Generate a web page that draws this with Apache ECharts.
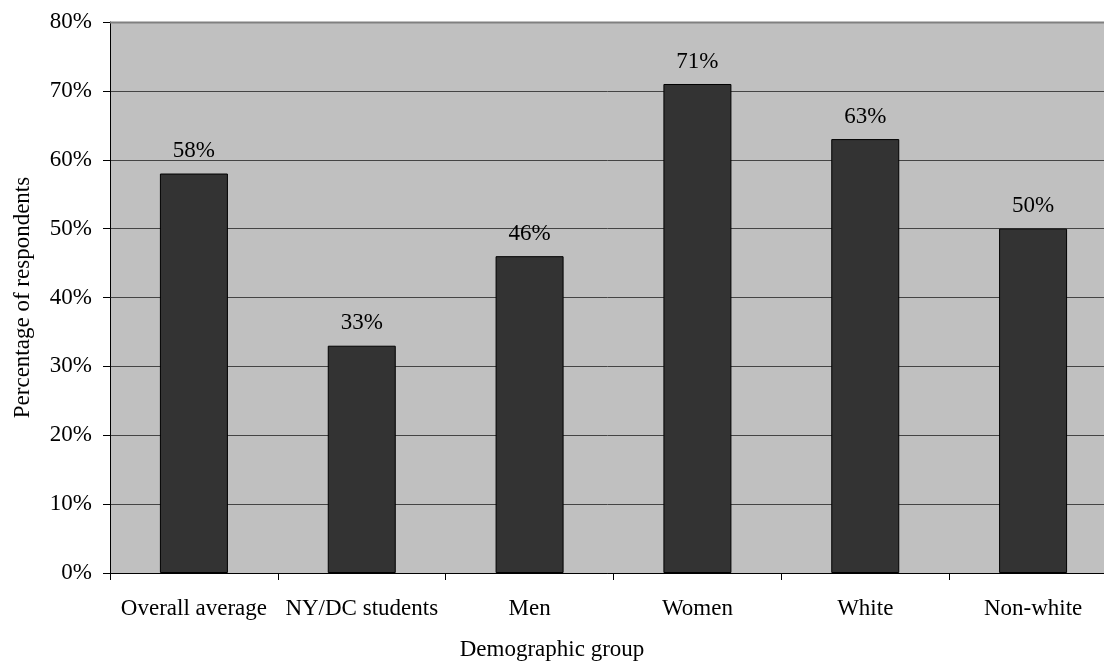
<!DOCTYPE html>
<html>
<head>
<meta charset="utf-8">
<script src="https://cdn.jsdelivr.net/npm/echarts@6/dist/echarts.min.js"></script>
<style>
  html, body { margin: 0; padding: 0; background: #ffffff; }
  #chart { width: 1104px; height: 666px; }
</style>
</head>
<body>
<div id="chart"></div>
<script>
// Share of respondents by demographic group
const categories = ['Overall average', 'NY/DC students', 'Men', 'Women', 'White', 'Non-white'];
const values = [58, 33, 46, 71, 63, 50];
const yTicks = [0, 10, 20, 30, 40, 50, 60, 70, 80];

const FONT = '"Liberation Serif", "Times New Roman", serif';
const FS = 23;

const chart = echarts.init(document.getElementById('chart'), null, { renderer: 'canvas' });

chart.setOption({
  animation: false,
  backgroundColor: '#ffffff',
  title: {
    text: 'Demographic group',
    left: 'center',
    top: 633,
    textStyle: { fontFamily: FONT, fontSize: FS, fontWeight: 'normal', color: '#000' }
  },
  grid: {
    left: 110,
    top: 22,
    width: 1007,
    height: 551,
    outerBoundsMode: 'none',
    containLabel: false,
    show: true,
    backgroundColor: '#c0c0c0',
    borderWidth: 0
  },
  xAxis: {
    type: 'category',
    data: categories,
    axisLine: { show: true, lineStyle: { color: '#000', width: 1 } },
    axisTick: { show: true, length: 7, alignWithLabel: false, lineStyle: { color: '#000' } },
    axisLabel: { margin: 24, fontFamily: FONT, fontSize: FS, color: '#000', interval: 0 },
    splitLine: { show: false }
  },
  yAxis: {
    type: 'value',
    min: yTicks[0],
    max: yTicks[yTicks.length - 1],
    interval: 10,
    name: 'Percentage of respondents',
    nameLocation: 'middle',
    nameGap: 76,
    nameTextStyle: { fontFamily: FONT, fontSize: FS, color: '#000' },
    axisLine: { show: true, lineStyle: { color: '#000', width: 1 } },
    axisTick: { show: true, length: 7, lineStyle: { color: '#000' } },
    axisLabel: {
      margin: 18,
      fontFamily: FONT,
      fontSize: FS,
      color: '#000',
      formatter: v => v + '%'
    },
    splitLine: {
      show: true,
      lineStyle: { color: '#444', width: 1 }
    }
  },
  graphic: [{
    type: 'line',
    z: 10,
    shape: { x1: 110, y1: 22.5, x2: 1104, y2: 22.5 },
    style: { stroke: '#808080', lineWidth: 2 }
  }],
  series: [{
    type: 'bar',
    data: values,
    barWidth: 68,
    itemStyle: { color: '#333333', borderColor: '#000', borderWidth: 1 },
    label: {
      show: true,
      position: 'top',
      distance: 11,
      fontFamily: FONT,
      fontSize: FS,
      color: '#000',
      formatter: p => p.value + '%'
    }
  }]
});
</script>
</body>
</html>
